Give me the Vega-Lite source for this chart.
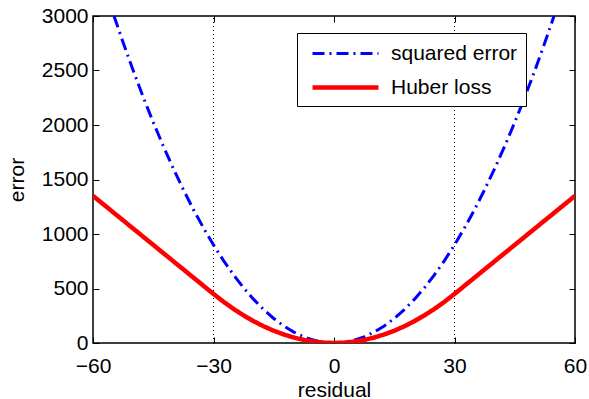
{
  "$schema": "https://vega.github.io/schema/vega-lite/v6.json",
  "width": 482,
  "height": 327,
  "autosize": "none",
  "padding": {"left": 93, "top": 16, "right": 14, "bottom": 56},
  "background": "white",
  "config": {
    "font": "Liberation Sans",
    "view": {"stroke": "black", "strokeWidth": 1.5},
    "axis": {"grid": false, "domain": false, "tickColor": "black", "tickSize": -6, "tickWidth": 1, "labelColor": "black", "labelFontSize": 21, "titleFontSize": 21, "titleFontWeight": "normal", "titleColor": "black", "labelFont": "Liberation Sans", "titleFont": "Liberation Sans", "labelFlush": false, "labelOverlap": false, "format": "d"}
  },
  "datasets": {
    "curves": [
      {"residual": -54.77, "error": 3000, "series": "squared error"},
      {"residual": -52.5, "error": 2756.25, "series": "squared error"},
      {"residual": -50, "error": 2500, "series": "squared error"},
      {"residual": -47.5, "error": 2256.25, "series": "squared error"},
      {"residual": -45, "error": 2025, "series": "squared error"},
      {"residual": -42.5, "error": 1806.25, "series": "squared error"},
      {"residual": -40, "error": 1600, "series": "squared error"},
      {"residual": -37.5, "error": 1406.25, "series": "squared error"},
      {"residual": -35, "error": 1225, "series": "squared error"},
      {"residual": -32.5, "error": 1056.25, "series": "squared error"},
      {"residual": -30, "error": 900, "series": "squared error"},
      {"residual": -27.5, "error": 756.25, "series": "squared error"},
      {"residual": -25, "error": 625, "series": "squared error"},
      {"residual": -22.5, "error": 506.25, "series": "squared error"},
      {"residual": -20, "error": 400, "series": "squared error"},
      {"residual": -17.5, "error": 306.25, "series": "squared error"},
      {"residual": -15, "error": 225, "series": "squared error"},
      {"residual": -12.5, "error": 156.25, "series": "squared error"},
      {"residual": -10, "error": 100, "series": "squared error"},
      {"residual": -7.5, "error": 56.25, "series": "squared error"},
      {"residual": -5, "error": 25, "series": "squared error"},
      {"residual": -2.5, "error": 6.25, "series": "squared error"},
      {"residual": 0, "error": 0, "series": "squared error"},
      {"residual": 2.5, "error": 6.25, "series": "squared error"},
      {"residual": 5, "error": 25, "series": "squared error"},
      {"residual": 7.5, "error": 56.25, "series": "squared error"},
      {"residual": 10, "error": 100, "series": "squared error"},
      {"residual": 12.5, "error": 156.25, "series": "squared error"},
      {"residual": 15, "error": 225, "series": "squared error"},
      {"residual": 17.5, "error": 306.25, "series": "squared error"},
      {"residual": 20, "error": 400, "series": "squared error"},
      {"residual": 22.5, "error": 506.25, "series": "squared error"},
      {"residual": 25, "error": 625, "series": "squared error"},
      {"residual": 27.5, "error": 756.25, "series": "squared error"},
      {"residual": 30, "error": 900, "series": "squared error"},
      {"residual": 32.5, "error": 1056.25, "series": "squared error"},
      {"residual": 35, "error": 1225, "series": "squared error"},
      {"residual": 37.5, "error": 1406.25, "series": "squared error"},
      {"residual": 40, "error": 1600, "series": "squared error"},
      {"residual": 42.5, "error": 1806.25, "series": "squared error"},
      {"residual": 45, "error": 2025, "series": "squared error"},
      {"residual": 47.5, "error": 2256.25, "series": "squared error"},
      {"residual": 50, "error": 2500, "series": "squared error"},
      {"residual": 52.5, "error": 2756.25, "series": "squared error"},
      {"residual": 54.77, "error": 3000, "series": "squared error"},
      {"residual": -60, "error": 1350, "series": "Huber loss"},
      {"residual": -55, "error": 1200, "series": "Huber loss"},
      {"residual": -50, "error": 1050, "series": "Huber loss"},
      {"residual": -45, "error": 900, "series": "Huber loss"},
      {"residual": -40, "error": 750, "series": "Huber loss"},
      {"residual": -35, "error": 600, "series": "Huber loss"},
      {"residual": -30, "error": 450, "series": "Huber loss"},
      {"residual": -27.5, "error": 378.125, "series": "Huber loss"},
      {"residual": -25, "error": 312.5, "series": "Huber loss"},
      {"residual": -22.5, "error": 253.125, "series": "Huber loss"},
      {"residual": -20, "error": 200, "series": "Huber loss"},
      {"residual": -17.5, "error": 153.125, "series": "Huber loss"},
      {"residual": -15, "error": 112.5, "series": "Huber loss"},
      {"residual": -12.5, "error": 78.125, "series": "Huber loss"},
      {"residual": -10, "error": 50, "series": "Huber loss"},
      {"residual": -7.5, "error": 28.125, "series": "Huber loss"},
      {"residual": -5, "error": 12.5, "series": "Huber loss"},
      {"residual": -2.5, "error": 3.125, "series": "Huber loss"},
      {"residual": 0, "error": 0, "series": "Huber loss"},
      {"residual": 2.5, "error": 3.125, "series": "Huber loss"},
      {"residual": 5, "error": 12.5, "series": "Huber loss"},
      {"residual": 7.5, "error": 28.125, "series": "Huber loss"},
      {"residual": 10, "error": 50, "series": "Huber loss"},
      {"residual": 12.5, "error": 78.125, "series": "Huber loss"},
      {"residual": 15, "error": 112.5, "series": "Huber loss"},
      {"residual": 17.5, "error": 153.125, "series": "Huber loss"},
      {"residual": 20, "error": 200, "series": "Huber loss"},
      {"residual": 22.5, "error": 253.125, "series": "Huber loss"},
      {"residual": 25, "error": 312.5, "series": "Huber loss"},
      {"residual": 27.5, "error": 378.125, "series": "Huber loss"},
      {"residual": 30, "error": 450, "series": "Huber loss"},
      {"residual": 35, "error": 600, "series": "Huber loss"},
      {"residual": 40, "error": 750, "series": "Huber loss"},
      {"residual": 45, "error": 900, "series": "Huber loss"},
      {"residual": 50, "error": 1050, "series": "Huber loss"},
      {"residual": 55, "error": 1200, "series": "Huber loss"},
      {"residual": 60, "error": 1350, "series": "Huber loss"}
    ],
    "gridlines": [{"residual": -30}, {"residual": 30}]
  },
  "resolve": {"axis": {"x": "independent", "y": "independent"}},
  "layer": [
    {
      "data": {"name": "gridlines"},
      "mark": {"type": "rule", "color": "black", "strokeWidth": 1, "strokeDash": [1, 3]},
      "encoding": {
        "x": {"field": "residual", "type": "quantitative", "scale": {"domain": [-60, 60], "nice": false},
          "axis": {"orient": "top", "values": [-60, -30, 0, 30, 60], "labels": false, "title": null}},
        "y": {"datum": 0, "type": "quantitative", "scale": {"domain": [0, 3000], "nice": false},
          "axis": {"orient": "right", "values": [0, 500, 1000, 1500, 2000, 2500, 3000], "labels": false, "title": null}},
        "y2": {"datum": 3000}
      }
    },
    {
      "data": {"name": "curves"},
      "mark": {"type": "line", "clip": true},
      "encoding": {
        "x": {"field": "residual", "type": "quantitative", "scale": {"domain": [-60, 60], "nice": false},
          "axis": {"orient": "bottom", "values": [-60, -30, 0, 30, 60], "title": "residual", "titlePadding": 3, "labelPadding": 18}},
        "y": {"field": "error", "type": "quantitative", "scale": {"domain": [0, 3000], "nice": false},
          "axis": {"orient": "left", "values": [0, 500, 1000, 1500, 2000, 2500, 3000], "title": "error", "titlePadding": 14, "labelPadding": 11}},
        "color": {"field": "series", "type": "nominal",
          "scale": {"domain": ["squared error", "Huber loss"], "range": ["#0000ff", "#ff0000"]},
          "legend": {"title": null, "orient": "none", "legendX": 204, "legendY": 17, "direction": "vertical",
            "symbolType": "M-1,0L5,0", "symbolSize": 484, "symbolStrokeWidth": 3.5, "symbolFillColor": "transparent", "labelFontSize": 21, "labelFont": "Liberation Sans", "labelColor": "black",
            "strokeColor": "black", "fillColor": "white", "padding": 8, "rowPadding": 10, "labelOffset": 54, "symbolOffset": 5}},
        "strokeDash": {"field": "series", "type": "nominal",
          "scale": {"domain": ["squared error", "Huber loss"], "range": [[12, 5, 2, 5], [1, 0]]},
          "legend": null},
        "strokeWidth": {"field": "series", "type": "nominal",
          "scale": {"domain": ["squared error", "Huber loss"], "range": [3, 4.5]},
          "legend": null}
      }
    }
  ]
}
